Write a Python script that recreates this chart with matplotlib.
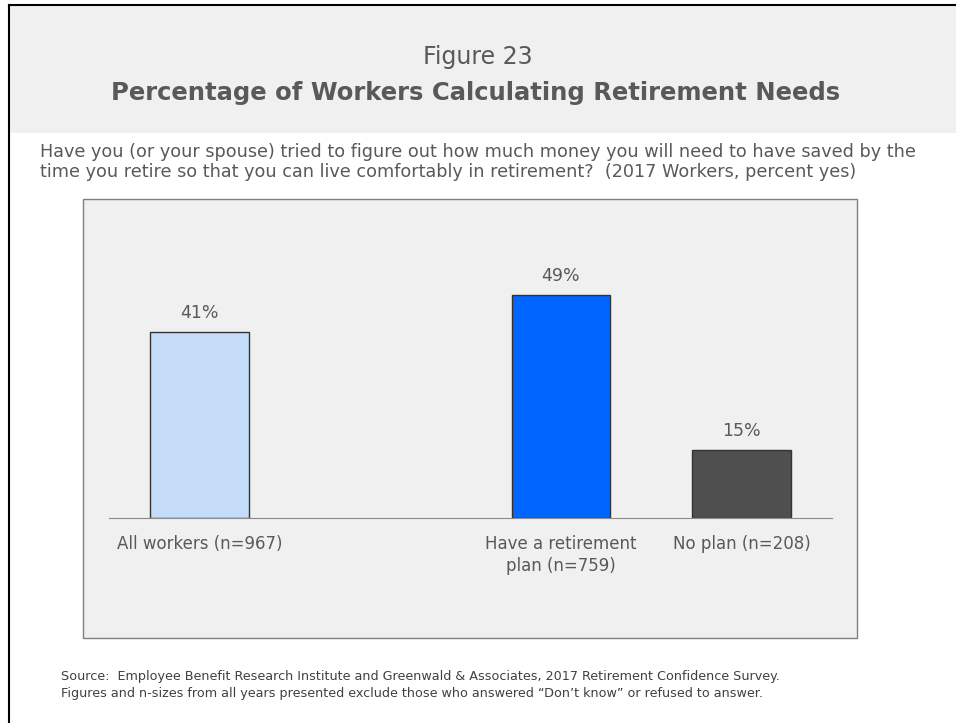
import matplotlib.pyplot as plt
from matplotlib.patches import Rectangle
from matplotlib.lines import Line2D

# chart data
categories = ['All workers (n=967)', 'Have a retirement\nplan (n=759)', 'No plan (n=208)']
values = [41, 49, 15]
bar_colors = ['#c4dcf7', '#0066ff', '#4f4f4f']
value_labels = ['41%', '49%', '15%']

fig_title = 'Figure 23'
main_title = 'Percentage of Workers Calculating Retirement Needs'
question = ('Have you (or your spouse) tried to figure out how much money you will need to have saved by the\n'
            'time you retire so that you can live comfortably in retirement?  (2017 Workers, percent yes)')
source = ('Source:  Employee Benefit Research Institute and Greenwald & Associates, 2017 Retirement Confidence Survey.\n'
          'Figures and n-sizes from all years presented exclude those who answered \u201cDon\u2019t know\u201d or refused to answer.')

W, H = 956, 723
TXT = '#595959'
FONT = 'DejaVu Sans'


def fx(px):
  return px / W


def fy(py):
  return 1 - py / H


def main():
  plt.rcParams['font.family'] = FONT
  fig = plt.figure(figsize=(W / 100, H / 100), dpi=100)
  fig.patch.set_facecolor('white')

  # header band and frame
  fig.add_artist(Rectangle((fx(10), fy(133)), fx(946), 128 / H, transform=fig.transFigure,
                           facecolor='#f0f0f0', edgecolor='none', zorder=0))
  fig.add_artist(Line2D([fx(9), fx(9)], [fy(5), 0], transform=fig.transFigure, color='black', lw=1.5))
  fig.add_artist(Line2D([fx(9), 1], [fy(5), fy(5)], transform=fig.transFigure, color='black', lw=1.5))

  fig.text(fx(478), fy(57), fig_title, ha='center', va='center', fontsize=17, color=TXT)
  fig.text(fx(476), fy(93), main_title, ha='center', va='center', fontsize=17.5,
           fontweight='bold', color=TXT)
  fig.text(fx(40), fy(162), question, ha='left', va='center', fontsize=12.7, color=TXT,
           linespacing=1.1)

  # plot box
  fig.add_artist(Rectangle((fx(83), fy(638)), fx(774), 439 / H, transform=fig.transFigure,
                           facecolor='#f0f0f0', edgecolor='#7f7f7f', lw=1, zorder=0))

  ax = fig.add_axes([fx(109.3), fy(518.3), fx(722.4), 55 * 4.555 / H])
  ax.patch.set_visible(False)
  x_pos = [0, 2, 3]
  ax.bar(x_pos, values, width=0.545, color=bar_colors, edgecolor='#333333', linewidth=1, zorder=2)
  for x, v, lab in zip(x_pos, values, value_labels):
    ax.text(x, v + 2.2, lab, ha='center', va='bottom', fontsize=12.5, color=TXT)

  ax.set_xlim(-0.5, 3.5)
  ax.set_ylim(0, 55)
  ax.set_xticks(x_pos)
  ax.set_xticklabels(categories, fontsize=12, color=TXT, linespacing=1.3)
  ax.tick_params(axis='x', length=0, pad=12)
  ax.set_yticks([])
  for side in ['top', 'left', 'right']:
    ax.spines[side].set_visible(False)
  ax.spines['bottom'].set_color('#8c8c8c')

  fig.text(fx(61), fy(685), source, ha='left', va='center', fontsize=9.2, color='#404040',
           linespacing=1.4)

  fig.savefig('out.png', dpi=100)


if __name__ == '__main__':
  main()
